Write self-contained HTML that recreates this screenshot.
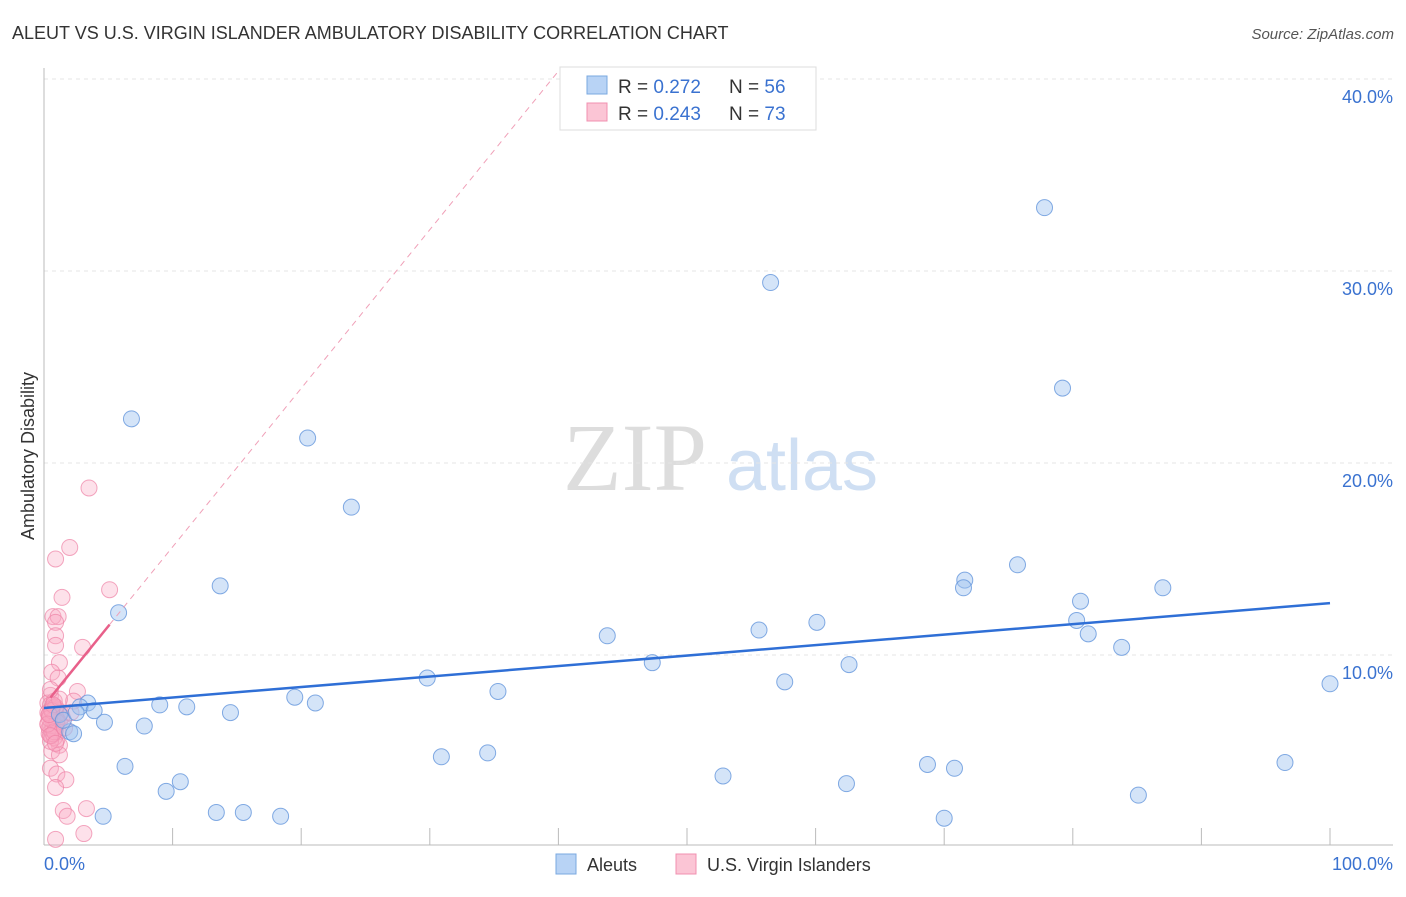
<!DOCTYPE html>
<html><head><meta charset="utf-8"><style>
body{margin:0;background:#fff;font-family:"Liberation Sans",sans-serif;}
</style></head><body>
<svg width="1406" height="892" xmlns="http://www.w3.org/2000/svg">
<text x="12" y="39" font-size="18" fill="#333">ALEUT VS U.S. VIRGIN ISLANDER AMBULATORY DISABILITY CORRELATION CHART</text>
<text x="1394" y="39" font-size="15" fill="#555" text-anchor="end" font-style="italic">Source: ZipAtlas.com</text>
<g>
<text x="635" y="490" font-size="96" fill="#ddd" text-anchor="middle" font-family="Liberation Serif,serif">ZIP</text>
<text x="802" y="490" font-size="72" fill="#cfdff3" text-anchor="middle">atlas</text>
</g>
<g id="grid"></g><g id="axes"></g><g id="marks"></g>
<text transform="translate(34,456) rotate(-90)" font-size="18" fill="#333" text-anchor="middle">Ambulatory Disability</text>
<text x="44" y="870" font-size="18" fill="#3a72d0">0.0%</text>
<text x="1393" y="870" font-size="18" fill="#3a72d0" text-anchor="end">100.0%</text>
<g>
<rect x="560" y="67" width="256" height="63" fill="#fff" stroke="#ddd"/>
<rect x="587" y="76" width="20" height="18" fill="#b8d3f5" stroke="#7aa8e0"/>
<rect x="587" y="103" width="20" height="18" fill="#fbc5d5" stroke="#f090b0"/>
<text x="618" y="93" font-size="19" fill="#333">R = <tspan fill="#3a72d0">0.272</tspan></text>
<text x="729" y="93" font-size="19" fill="#333">N = <tspan fill="#3a72d0">56</tspan></text>
<text x="618" y="120" font-size="19" fill="#333">R = <tspan fill="#3a72d0">0.243</tspan></text>
<text x="729" y="120" font-size="19" fill="#333">N = <tspan fill="#3a72d0">73</tspan></text>
</g>
<g>
<rect x="556" y="854" width="20" height="20" fill="#b8d3f5" stroke="#7aa8e0"/>
<text x="587" y="871" font-size="18" fill="#333">Aleuts</text>
<rect x="676" y="854" width="20" height="20" fill="#fbc5d5" stroke="#f090b0"/>
<text x="707" y="871" font-size="18" fill="#333">U.S. Virgin Islanders</text>
</g>
</svg>
<script>
const yTicks=[10,20,30,40];
const yTickLabels=["10.0%","20.0%","30.0%","40.0%"];
const xTicks=[10,20,30,40,50,60,70,80,90,100];
const aleutX=[77.8,56.5,79.2,6.8,20.5,23.9,75.7,71.6,71.5,87.0,13.7,80.6,5.8,80.3,60.1,55.6,43.8,81.2,83.8,47.3,62.6,29.8,57.6,35.3,100,19.5,21.1,9.0,11.1,3.4,2.8,3.9,14.5,1.2,4.7,7.8,2.0,2.3,30.9,34.5,6.3,52.8,10.6,68.7,70.8,96.5,9.5,62.4,85.1,13.4,15.5,18.4,4.6,70.0,1.5,2.5];
const aleutY=[33.3,29.4,23.9,22.3,21.3,17.7,14.7,13.9,13.5,13.5,13.6,12.8,12.2,11.8,11.7,11.3,11.0,11.1,10.4,9.6,9.5,8.8,8.6,8.1,8.5,7.8,7.5,7.4,7.3,7.5,7.3,7.1,7.0,6.9,6.5,6.3,6.0,5.9,4.7,4.9,4.2,3.7,3.4,4.3,4.1,4.4,2.9,3.3,2.7,1.8,1.8,1.6,1.6,1.5,6.6,7.0];
const virgX=[3.5,2.0,0.9,5.1,1.4,0.7,1.1,0.9,0.9,0.9,3.0,1.2,0.6,1.1,2.6,0.5,2.3,1.2,0.6,1.2,0.5,1.0,1.7,0.9,1.5,1.8,3.3,3.1,0.9,0.3,0.5,0.7,0.9,1.1,1.3,0.4,0.6,0.8,1.0,1.2,0.3,0.5,0.7,0.9,1.1,0.4,0.6,0.8,1.0,0.3,0.5,0.7,0.9,1.4,0.4,0.6,0.8,1.0,0.5,0.7,0.9,0.4,0.6,0.8,1.2,0.3,0.5,0.7,0.5,0.9,0.4,1.6,2.1];
const virgY=[18.7,15.6,15.0,13.4,13.0,12.0,12.0,11.7,11.0,10.5,10.4,9.6,9.1,8.8,8.1,7.9,7.6,5.3,5.0,4.8,4.1,3.8,3.5,3.1,1.9,1.6,2.0,0.7,0.4,7.5,7.4,7.3,7.2,7.1,7.0,6.9,6.8,6.7,6.6,6.5,6.4,6.3,6.2,6.1,6.0,5.9,5.8,5.7,5.6,7.0,6.9,6.6,6.3,6.8,6.2,7.2,7.6,6.5,5.5,5.9,7.3,6.7,7.1,6.0,7.7,6.4,5.8,7.4,8.2,5.4,6.9,6.2,7.0];
const aleutTrend=[7.24,12.7];
const virgTrend=[7.37,0.826];
const X=v=>44+v*12.86, Y=v=>847-v*19.2;
const NS="http://www.w3.org/2000/svg";
function mk(p,t,a){const e=document.createElementNS(NS,t);for(const k in a)e.setAttribute(k,a[k]);p.appendChild(e);return e;}
const grid=document.getElementById('grid'),axes=document.getElementById('axes'),marks=document.getElementById('marks');
yTicks.forEach((t,i)=>{const l=mk(grid,'line',{x1:44,x2:1393,y1:Y(t),y2:Y(t),stroke:'#e4e4e4','stroke-dasharray':'4,4'});


const tx=mk(axes,'text',{x:1393,y:Y(t)+24,'font-size':18,fill:'#3a72d0','text-anchor':'end'});tx.textContent=yTickLabels[i];

});
const ax=mk(axes,'line',{x1:44,x2:44,y1:68,y2:845,stroke:'#bbb'});


const bx=mk(axes,'line',{x1:44,x2:1393,y1:845,y2:845,stroke:'#bbb'});


xTicks.forEach(t=>{const l=mk(axes,'line',{x1:X(t),x2:X(t),y1:828,y2:845,stroke:'#bbb'});

});
virgX.forEach((x,i)=>{const c=mk(marks,'circle',{cx:X(x),cy:Y(virgY[i]),r:8,fill:'rgba(248,170,195,0.35)',stroke:'rgba(238,130,165,0.7)','stroke-width':1});

});
aleutX.forEach((x,i)=>{const c=mk(marks,'circle',{cx:X(x),cy:Y(aleutY[i]),r:8,fill:'rgba(160,196,240,0.45)',stroke:'rgba(100,150,220,0.8)','stroke-width':1});

});
let l=mk(marks,'line',{x1:X(0),x2:X(100),y1:Y(aleutTrend[0]),y2:Y(aleutTrend[1]),stroke:'#2f6fd6','stroke-width':2.5});


const vy=x=>virgTrend[0]+virgTrend[1]*x;
l=mk(marks,'line',{x1:X(5.1),x2:X(40.1),y1:Y(vy(5.1)),y2:Y(vy(40.1)),stroke:'#f0a0b8','stroke-width':1,'stroke-dasharray':'6,5'});


l=mk(marks,'line',{x1:X(0.5),x2:X(5.1),y1:Y(vy(0.5)),y2:Y(vy(5.1)),stroke:'#e8608a','stroke-width':2.5});


</script>
</body></html>
